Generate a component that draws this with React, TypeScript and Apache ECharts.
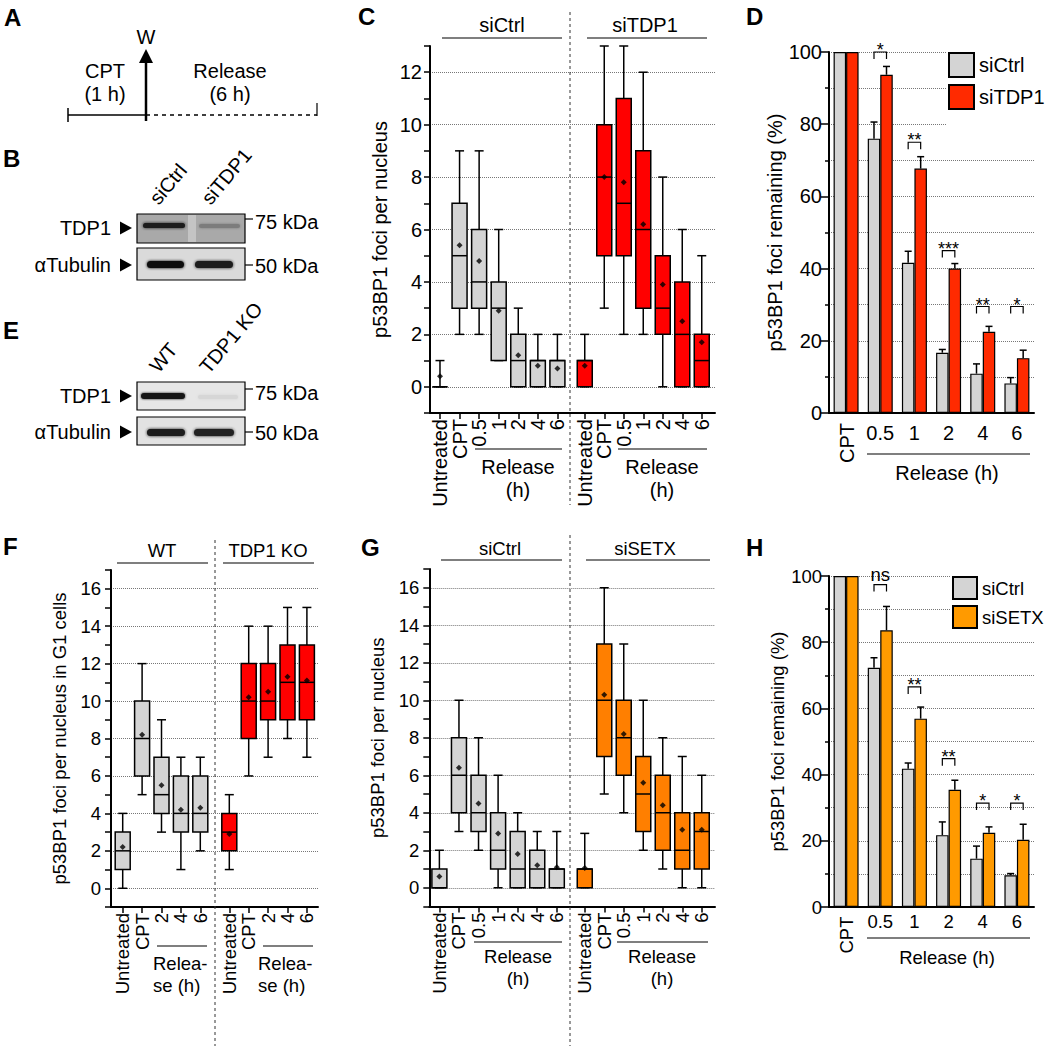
import React, { useEffect, useRef } from "react";
import * as echarts from "echarts";

const FONT = "'Liberation Sans', Arial, Helvetica, sans-serif";

// ---------- Panel C (boxplots: min, Q1, median, Q3, max) ----------
const C_CATS = ["Untreated", "CPT", "0.5", "1", "2", "4", "6"];
const C_SICTRL_BOX = [[0, 0, 0, 0, 1], [2, 3, 5, 7, 9], [2, 3, 4, 6, 9], [1, 1, 3, 4, 6], [0, 0, 1, 2, 3], [0, 0, 1, 1, 2], [0, 0, 1, 1, 2]];
const C_SICTRL_MEAN = [0.4, 5.4, 4.8, 2.9, 1.2, 0.8, 0.7];
const C_SITDP1_BOX = [[0, 0, 1, 1, 2], [3, 5, 8, 10, 13], [2, 5, 7, 11, 13], [2, 3, 6, 9, 12], [0, 2, 3, 5, 8], [0, 0, 2, 4, 6], [0, 0, 1, 2, 5]];
const C_SITDP1_MEAN = [0.8, 8.0, 7.8, 6.2, 3.9, 2.5, 1.7];

// ---------- Panel D (bars, % remaining) ----------
const BAR_CATS = ["CPT", "0.5", "1", "2", "4", "6"];
const D_SICTRL = [100, 76, 41.6, 16.7, 10.9, 8.2];
const D_SICTRL_SEM = [0, 4.6, 3.2, 0.9, 2.7, 1.6];
const D_SITDP1 = [100, 93.7, 67.7, 40, 22.5, 15.2];
const D_SITDP1_SEM = [0, 2.3, 3.3, 1.4, 1.5, 2.2];
const D_SIG = ["", "*", "**", "***", "**", "*"];
const D_SIG_Y = [null, 100, 75, 45, 29.5, 29.5];

// ---------- Panel F ----------
const F_CATS = ["Untreated", "CPT", "2", "4", "6"];
const F_WT_BOX = [[0, 1, 2, 3, 4], [5, 6, 8, 10, 12], [3, 4, 5, 7, 9], [1, 3, 4, 6, 7], [2, 3, 4, 6, 7]];
const F_WT_MEAN = [2.2, 8.2, 5.5, 4.2, 4.3];
const F_KO_BOX = [[1, 2, 3, 4, 5], [6, 8, 10, 12, 14], [7, 9, 10, 12, 14], [8, 9, 11, 13, 15], [7, 9, 11, 13, 15]];
const F_KO_MEAN = [2.9, 10.2, 10.5, 11.3, 11.1];

// ---------- Panel G ----------
const G_CATS = ["Untreated", "CPT", "0.5", "1", "2", "4", "6"];
const G_SICTRL_BOX = [[0, 0, 0, 1, 2], [3, 4, 6, 8, 10], [2, 3, 4, 6, 8], [0, 1, 2, 4, 6], [0, 0, 1, 3, 4], [0, 0, 1, 2, 3], [0, 0, 1, 1, 3]];
const G_SICTRL_MEAN = [0.6, 6.4, 4.5, 2.9, 1.8, 1.2, 1.1];
const G_SISETX_BOX = [[0, 0, 1, 1, 2.9], [5, 7, 10, 13, 16], [4, 6, 8, 10, 13], [2, 3, 5, 7, 10], [1, 2, 4, 6, 8], [0, 1, 2, 4, 7], [0, 1, 3, 4, 6]];
const G_SISETX_MEAN = [1.05, 10.3, 8.2, 5.6, 4.4, 3.1, 3.1];

// ---------- Panel H ----------
const H_SICTRL = [100, 72.3, 41.8, 21.7, 14.6, 9.6];
const H_SICTRL_SEM = [0, 3, 1.7, 4, 3.8, 0.5];
const H_SISETX = [100, 83.6, 56.9, 35.4, 22.4, 20.3];
const H_SISETX_SEM = [0, 7.2, 3.5, 2.9, 1.8, 4.7];
const H_SIG = ["", "ns", "**", "**", "*", "*"];
const H_SIG_Y = [null, 97.4, 66.5, 44.8, 31.4, 31.4];

const GRAY = "#d4d4d4";
const RED_BOX = "#ff0000";
const RED_BAR = "#ff2a00";
const ORANGE_BOX = "#ff7f00";
const ORANGE_BAR = "#ff9a00";
const DEG = Math.PI / 180;

function boxRenderer(fill: string) {
  return (_params: any, api: any) => {
    const i = api.value(0);
    const pMin = api.coord([i, api.value(1)]);
    const pQ1 = api.coord([i, api.value(2)]);
    const pMed = api.coord([i, api.value(3)]);
    const pQ3 = api.coord([i, api.value(4)]);
    const pMax = api.coord([i, api.value(5)]);
    const x = pMin[0];
    const bw = 15;
    const cw = 9;
    const ln = (x1: number, y1: number, x2: number, y2: number) => ({
      type: "line",
      shape: { x1, y1, x2, y2 },
      style: { stroke: "#000", lineWidth: 1.5 },
    });
    return {
      type: "group",
      children: [
        ln(x, pMin[1], x, pQ1[1]),
        ln(x, pQ3[1], x, pMax[1]),
        ln(x - cw / 2, pMin[1], x + cw / 2, pMin[1]),
        ln(x - cw / 2, pMax[1], x + cw / 2, pMax[1]),
        {
          type: "rect",
          shape: { x: x - bw / 2, y: pQ3[1], width: bw, height: pQ1[1] - pQ3[1] },
          style: { fill, stroke: "#000", lineWidth: 1.5 },
        },
        ln(x - bw / 2, pMed[1], x + bw / 2, pMed[1]),
      ],
    };
  };
}

function errRenderer(dx: number) {
  return (_params: any, api: any) => {
    const i = api.value(0);
    const p1 = api.coord([i, api.value(1)]);
    const p2 = api.coord([i, api.value(2)]);
    const x = p1[0] + dx;
    return {
      type: "group",
      children: [
        { type: "line", shape: { x1: x, y1: p1[1], x2: x, y2: p2[1] }, style: { stroke: "#000", lineWidth: 1.5 } },
        { type: "line", shape: { x1: x - 3.5, y1: p2[1], x2: x + 3.5, y2: p2[1] }, style: { stroke: "#000", lineWidth: 1.5 } },
      ],
    };
  };
}

function sigRenderer(labels: string[], fs: number) {
  return (_params: any, api: any) => {
    const i = api.value(0);
    const p = api.coord([i, api.value(1)]);
    const x1 = p[0] - 6.25;
    const x2 = p[0] + 6.25;
    const y = p[1];
    const label = labels[i];
    const isText = /[a-z]/.test(label);
    return {
      type: "group",
      children: [
        {
          type: "polyline",
          shape: { points: [[x1, y + 7], [x1, y], [x2, y], [x2, y + 7]] },
          style: { stroke: "#000", lineWidth: 1.2, fill: "none" },
        },
        {
          type: "text",
          x: p[0],
          y: isText ? y - 10 : y - 2,
          style: {
            text: label,
            fill: "#000",
            fontSize: isText ? fs : 18,
            fontFamily: FONT,
            textAlign: "center",
            textVerticalAlign: "middle",
            align: "center",
            verticalAlign: "middle",
          },
        },
      ],
    };
  };
}

const txt = (text: string, x: number, y: number, o: any = {}) => ({
  type: "text",
  x,
  y,
  rotation: o.rot || 0,
  silent: true,
  z: 20,
  style: {
    text,
    fill: "#000",
    fontSize: o.size || 20,
    fontFamily: FONT,
    fontWeight: o.bold ? "bold" : "normal",
    textAlign: o.align || "center",
    textVerticalAlign: o.va || "middle",
    align: o.align || "center",
    verticalAlign: o.va || "middle",
  },
});

const seg = (x1: number, y1: number, x2: number, y2: number, o: any = {}) => ({
  type: "line",
  silent: true,
  z: 20,
  shape: { x1, y1, x2, y2 },
  style: { stroke: o.color || "#000", lineWidth: o.w || 1.3, lineDash: o.dash || null },
});

const tri = (x: number, y: number) => ({
  type: "polygon",
  silent: true,
  z: 20,
  shape: { points: [[x, y - 6.5], [x, y + 6.5], [x + 12, y]] },
  style: { fill: "#000" },
});

const blot = (x: number, y: number, w: number, h: number, fill: string) => ({
  type: "rect",
  silent: true,
  z: 18,
  shape: { x, y, width: w, height: h },
  style: { fill, stroke: "#000", lineWidth: 1.2 },
});

const band = (x: number, y: number, w: number, h: number, color: string, blur = 3) => ({
  type: "rect",
  silent: true,
  z: 19,
  shape: { x, y, width: w, height: h, r: h / 2 },
  style: { fill: color, shadowBlur: blur, shadowColor: color },
});

function yBox(gridIndex: number, max: number, name: string, fs: number, nameGap: number, margin: number) {
  return {
    type: "value",
    gridIndex,
    min: -1,
    max,
    interval: 1,
    name,
    nameLocation: "middle",
    nameGap,
    nameTextStyle: { fontSize: fs, color: "#000", fontFamily: FONT },
    axisLine: { show: true, onZero: false, lineStyle: { color: "#000", width: 2 } },
    axisTick: { show: true, length: 6, lineStyle: { color: "#000", width: 1.5 } },
    axisLabel: {
      fontSize: fs,
      color: "#000",
      fontFamily: FONT,
      margin,
      formatter: (v: number) => (v >= 0 && v < max && v % 2 === 0 ? String(v) : ""),
    },
    splitLine: { show: true, lineStyle: { color: ["rgba(0,0,0,0)", "#777"], type: "dotted", width: 1 } },
  };
}

const yHidden = (gridIndex: number, max: number) => ({ type: "value", gridIndex, min: -1, max, show: false });

const xFrame = (gridIndex: number) => ({
  type: "value",
  gridIndex,
  min: 0,
  max: 1,
  axisLine: { show: true, onZero: false, lineStyle: { color: "#000", width: 2 } },
  axisTick: { show: false },
  axisLabel: { show: false },
  splitLine: { show: false },
});

const xCat = (gridIndex: number, data: string[], fs: number) => ({
  type: "category",
  gridIndex,
  data,
  axisLine: { show: false, onZero: false },
  axisTick: { show: true, alignWithLabel: true, length: 6, lineStyle: { color: "#000", width: 1.5 } },
  axisLabel: { interval: 0, rotate: 90, fontSize: fs, color: "#000", fontFamily: FONT, margin: 6 },
  splitLine: { show: false },
});

const yPct = (gridIndex: number, fs: number, nameGap: number) => ({
  type: "value",
  gridIndex,
  min: 0,
  max: 100,
  interval: 20,
  name: "p53BP1 foci remaining (%)",
  nameLocation: "middle",
  nameGap,
  nameTextStyle: { fontSize: fs, color: "#000", fontFamily: FONT },
  axisLine: { show: true, onZero: false, lineStyle: { color: "#000", width: 2 } },
  axisTick: { show: true, length: 8, lineStyle: { color: "#000", width: 1.5 } },
  minorTick: { show: true, splitNumber: 2, length: 4, lineStyle: { color: "#000", width: 1.5 } },
  axisLabel: { fontSize: fs, color: "#000", fontFamily: FONT, margin: 7 },
  splitLine: { show: true, lineStyle: { color: "#777", type: "dotted", width: 1 } },
  minorSplitLine: { show: true, lineStyle: { color: "#777", type: "dotted", width: 1 } },
});

const xBar = (gridIndex: number, fs: number, margin: number) => ({
  type: "category",
  gridIndex,
  data: BAR_CATS,
  axisLine: { show: true, onZero: false, lineStyle: { color: "#000", width: 2 } },
  axisTick: { show: false },
  axisLabel: {
    interval: 0,
    fontSize: fs,
    color: "#000",
    fontFamily: FONT,
    margin,
    formatter: (v: string) => (v === "CPT" ? "" : v),
  },
  splitLine: { show: false },
});

const boxSeries = (ax: number, data: number[][], fill: string) => ({
  type: "custom",
  xAxisIndex: ax,
  yAxisIndex: ax,
  renderItem: boxRenderer(fill),
  encode: { x: 0, y: [1, 2, 3, 4, 5] },
  data: data.map((b, i) => [i, ...b]),
  z: 3,
  silent: true,
});

const meanSeries = (ax: number, means: number[]) => ({
  type: "scatter",
  xAxisIndex: ax,
  yAxisIndex: ax,
  data: means.map((m, i) => [i, m]),
  symbol: "diamond",
  symbolSize: 6,
  itemStyle: { color: "#000" },
  z: 5,
  silent: true,
});

const barSeries = (ax: number, name: string, data: number[], color: string) => ({
  type: "bar",
  name,
  xAxisIndex: ax,
  yAxisIndex: ax,
  data,
  barWidth: 12.5,
  barGap: "0%",
  itemStyle: { color, borderColor: "#000", borderWidth: 1.2 },
  z: 2,
  silent: true,
});

const errSeries = (ax: number, vals: number[], sem: number[], dx: number) => ({
  type: "custom",
  xAxisIndex: ax,
  yAxisIndex: ax,
  renderItem: errRenderer(dx),
  encode: { x: 0, y: [1, 2] },
  data: vals.map((v, i) => [i, v, v + sem[i]]).filter((d) => d[2] > d[1]),
  z: 4,
  silent: true,
});

const sigSeries = (ax: number, ys: (number | null)[], labels: string[], fs: number) => ({
  type: "custom",
  xAxisIndex: ax,
  yAxisIndex: ax,
  renderItem: sigRenderer(labels, fs),
  encode: { x: 0, y: 1 },
  data: ys.map((y, i) => [i, y]).filter((d) => d[1] !== null),
  z: 4,
  silent: true,
});

function buildOption() {
  const grids = [
    { left: 430, top: 46, width: 285, height: 367 }, // 0 C frame
    { left: 430.2, top: 46, width: 137, height: 367 }, // 1 C left
    { left: 575, top: 46, width: 136.5, height: 367 }, // 2 C right
    { left: 829, top: 52, width: 205, height: 361 }, // 3 D
    { left: 111, top: 570, width: 207, height: 337 }, // 4 F frame
    { left: 113, top: 570, width: 97, height: 337 }, // 5 F left
    { left: 219.6, top: 570, width: 97, height: 337 }, // 6 F right
    { left: 429.3, top: 569, width: 285.7, height: 337.5 }, // 7 G frame
    { left: 429.6, top: 569, width: 137, height: 337.5 }, // 8 G left
    { left: 575, top: 569, width: 136.5, height: 337.5 }, // 9 G right
    { left: 829, top: 576, width: 205, height: 331 }, // 10 H
  ].map((g) => ({ ...g, containLabel: false, outerBoundsMode: "none" }));

  const xAxis = [
    xFrame(0),
    xCat(1, C_CATS, 20),
    xCat(2, C_CATS, 20),
    xBar(3, 20, 10),
    xFrame(4),
    xCat(5, F_CATS, 18.5),
    xCat(6, F_CATS, 18.5),
    xFrame(7),
    xCat(8, G_CATS, 18.5),
    xCat(9, G_CATS, 18.5),
    xBar(10, 18.5, 5),
  ];

  const yAxis = [
    yBox(0, 13, "p53BP1 foci per nucleus", 20, 40, 8),
    yHidden(1, 13),
    yHidden(2, 13),
    yPct(3, 20, 41),
    yBox(4, 17, "p53BP1 foci per nucleus in G1 cells", 18.5, 42, 10),
    yHidden(5, 17),
    yHidden(6, 17),
    yBox(7, 17, "p53BP1 foci per nucleus", 18.5, 42, 10),
    yHidden(8, 17),
    yHidden(9, 17),
    yPct(10, 18.5, 42),
  ];

  const series = [
    boxSeries(1, C_SICTRL_BOX, GRAY),
    meanSeries(1, C_SICTRL_MEAN),
    boxSeries(2, C_SITDP1_BOX, RED_BOX),
    meanSeries(2, C_SITDP1_MEAN),
    barSeries(3, "siCtrl", D_SICTRL, GRAY),
    barSeries(3, "siTDP1", D_SITDP1, RED_BAR),
    errSeries(3, D_SICTRL, D_SICTRL_SEM, -6.25),
    errSeries(3, D_SITDP1, D_SITDP1_SEM, 6.25),
    sigSeries(3, D_SIG_Y, D_SIG, 20),
    boxSeries(5, F_WT_BOX, GRAY),
    meanSeries(5, F_WT_MEAN),
    boxSeries(6, F_KO_BOX, RED_BOX),
    meanSeries(6, F_KO_MEAN),
    boxSeries(8, G_SICTRL_BOX, GRAY),
    meanSeries(8, G_SICTRL_MEAN),
    boxSeries(9, G_SISETX_BOX, ORANGE_BOX),
    meanSeries(9, G_SISETX_MEAN),
    barSeries(10, "siCtrl", H_SICTRL, GRAY),
    barSeries(10, "siSETX", H_SISETX, ORANGE_BAR),
    errSeries(10, H_SICTRL, H_SICTRL_SEM, -6.25),
    errSeries(10, H_SISETX, H_SISETX_SEM, 6.25),
    sigSeries(10, H_SIG_Y, H_SIG, 18.5),
  ];

  const legendBase = {
    orient: "vertical",
    icon: "rect",
    selectedMode: false,
    backgroundColor: "#fff",
    itemStyle: { borderWidth: 2, borderColor: "#000" },
  };
  const legend = [
    {
      ...legendBase,
      data: ["siCtrl", "siTDP1"],
      left: 946,
      top: 52,
      itemWidth: 25,
      itemHeight: 24,
      itemGap: 6,
      padding: [0, 2, 20, 2],
      textStyle: { fontSize: 20, color: "#000", fontFamily: FONT },
    },
    {
      ...legendBase,
      data: ["siCtrl", "siSETX"],
      left: 950,
      top: 576,
      itemWidth: 24,
      itemHeight: 22,
      itemGap: 5,
      padding: [0, 2, 0, 2],
      textStyle: { fontSize: 18.5, color: "#000", fontFamily: FONT },
    },
  ];

  const L = { bold: true, size: 24, align: "left" };
  const graphic: any[] = [
    // panel letters
    txt("A", 4, 17, L),
    txt("B", 3, 158, L),
    txt("C", 358, 16, L),
    txt("D", 746, 16, L),
    txt("E", 3, 330, L),
    txt("F", 3, 546, L),
    txt("G", 361, 547, L),
    txt("H", 746, 547, L),

    // ---- A: timeline ----
    txt("W", 146, 37),
    { type: "polygon", silent: true, z: 20, shape: { points: [[146, 49], [139, 63], [153, 63]] }, style: { fill: "#000" } },
    seg(146, 62, 146, 121, { w: 2.5 }),
    txt("CPT", 105, 71),
    txt("(1 h)", 105, 94),
    txt("Release", 230, 71),
    txt("(6 h)", 230, 94),
    seg(68, 115, 146, 115, { w: 1.5 }),
    seg(68, 108, 68, 122, { w: 1.5 }),
    seg(146, 115, 317, 115, { w: 1.5, dash: [4, 4] }),
    seg(317, 103, 317, 116, { w: 1.2 }),

    // ---- B: western blot ----
    txt("siCtrl", 161, 208, { rot: 50 * DEG, align: "left", va: "bottom" }),
    txt("siTDP1", 213, 208, { rot: 50 * DEG, align: "left", va: "bottom" }),
    blot(137, 214, 108, 29, "#a9a9a9"),
    { type: "rect", silent: true, z: 18.5, shape: { x: 188, y: 215, width: 8, height: 27 }, style: { fill: "#c4c4c4" } },
    band(143, 223, 42, 5, "#1c1c1c", 3),
    band(199, 224, 41, 4, "#7c7c7c", 3),
    blot(137, 248, 108, 32, "#dadada"),
    band(147, 261, 37, 7, "#111", 3),
    band(195, 261, 38, 7, "#1a1a1a", 3),
    txt("TDP1", 111, 228, { align: "right" }),
    tri(120, 228),
    txt("\u03b1Tubulin", 111, 265, { align: "right" }),
    tri(120, 265),
    seg(245, 219, 253, 219, { w: 1.2 }),
    txt("75 kDa", 255, 222, { align: "left" }),
    seg(245, 265, 253, 265, { w: 1.2 }),
    txt("50 kDa", 255, 266, { align: "left" }),

    // ---- E: western blot ----
    txt("WT", 161, 376, { rot: 50 * DEG, align: "left", va: "bottom" }),
    txt("TDP1 KO", 211, 377, { rot: 50 * DEG, align: "left", va: "bottom" }),
    blot(137, 382, 108, 28, "#e6e6e6"),
    band(141, 393, 44, 6, "#151515", 2.5),
    band(198, 395, 40, 4, "#d6d6d6", 3),
    blot(137, 417, 108, 28, "#e2e2e2"),
    band(147, 429, 38, 7, "#1a1a1a", 3),
    band(194, 429, 40, 7, "#222", 3),
    txt("TDP1", 111, 396, { align: "right" }),
    tri(120, 396),
    txt("\u03b1Tubulin", 111, 432, { align: "right" }),
    tri(120, 432),
    seg(245, 389, 253, 389, { w: 1.2 }),
    txt("75 kDa", 255, 393, { align: "left" }),
    seg(245, 432, 253, 432, { w: 1.2 }),
    txt("50 kDa", 255, 433, { align: "left" }),

    // ---- C extras ----
    txt("siCtrl", 502, 25),
    seg(442, 38, 562, 38, { w: 1.2 }),
    txt("siTDP1", 645, 25),
    seg(587, 38, 707, 38, { w: 1.2 }),
    seg(570, 12, 570, 505, { w: 1, dash: [3, 3], color: "#333" }),
    seg(475, 449, 562, 449, { w: 1.2 }),
    txt("Release", 518, 467),
    txt("(h)", 518, 490),
    seg(618, 449, 707, 449, { w: 1.2 }),
    txt("Release", 662, 467),
    txt("(h)", 662, 490),

    // ---- D extras ----
    txt("CPT", 847, 443, { rot: 90 * DEG }),
    seg(867, 454, 1030, 454, { w: 1.2 }),
    txt("Release (h)", 947, 473),

    // ---- F extras ----
    txt("WT", 162, 550, { size: 18.5 }),
    seg(117, 563, 208, 563, { w: 1.2 }),
    txt("TDP1 KO", 268, 550, { size: 18.5 }),
    seg(223, 563, 314, 563, { w: 1.2 }),
    seg(215, 540, 215, 1046, { w: 1, dash: [3, 3], color: "#333" }),
    seg(157, 946, 207, 946, { w: 1.2 }),
    txt("Relea-", 153, 963, { size: 18.5, align: "left" }),
    txt("se (h)", 153, 985, { size: 18.5, align: "left" }),
    seg(263, 946, 313, 946, { w: 1.2 }),
    txt("Relea-", 258, 963, { size: 18.5, align: "left" }),
    txt("se (h)", 258, 985, { size: 18.5, align: "left" }),

    // ---- G extras ----
    txt("siCtrl", 500, 548, { size: 18.5 }),
    seg(441, 560, 562, 560, { w: 1.2 }),
    txt("siSETX", 645, 548, { size: 18.5 }),
    seg(586, 560, 710, 560, { w: 1.2 }),
    seg(570, 535, 570, 1046, { w: 1, dash: [3, 3], color: "#333" }),
    seg(474, 942, 562, 942, { w: 1.2 }),
    txt("Release", 518, 956, { size: 18.5 }),
    txt("(h)", 518, 978, { size: 18.5 }),
    seg(617, 942, 708, 942, { w: 1.2 }),
    txt("Release", 662, 956, { size: 18.5 }),
    txt("(h)", 662, 978, { size: 18.5 }),

    // ---- H extras ----
    txt("CPT", 846, 935, { rot: 90 * DEG, size: 18.5 }),
    seg(867, 938, 1030, 938, { w: 1.2 }),
    txt("Release (h)", 947, 957, { size: 18.5 }),
  ];

  return {
    animation: false,
    backgroundColor: "#fff",
    textStyle: { fontFamily: FONT, color: "#000" },
    grid: grids,
    xAxis,
    yAxis,
    legend,
    series,
    graphic,
  };
}

export default function App() {
  const ref = useRef<HTMLDivElement>(null);
  useEffect(() => {
    if (!ref.current) return;
    const chart = echarts.init(ref.current, null, { renderer: "svg" });
    chart.setOption(buildOption() as any);
    return () => chart.dispose();
  }, []);
  return (
    <div
      ref={ref}
      style={{ position: "absolute", left: 0, top: 0, width: 1050, height: 1048, background: "#fff" }}
    />
  );
}
